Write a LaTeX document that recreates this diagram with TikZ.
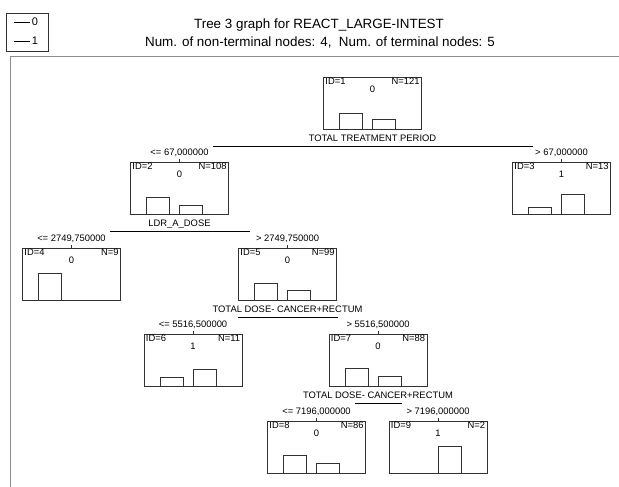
\documentclass[tikz,border=0pt]{standalone}
\usepackage{fontspec}
\setmainfont{Liberation Sans}
\usetikzlibrary{positioning,calc}
\definecolor{boxline}{RGB}{50,50,50}
\definecolor{framegray}{RGB}{140,140,140}

% one tree node: name, x centre, top, id, n, class, bar heights
\newcommand{\drawtreenode}[8]{%
  \node[treebox] (#1) at (#2,#3) {};
  \node[small, anchor=north west] (#1id) at ([shift={(2pt,-1pt)}]#1.north west) {ID=#4};
  \node[small, anchor=north east] (#1n) at ([shift={(-2pt,-1pt)}]#1.north east) {N=#5};
  \node[small] (#1cls) at ([yshift=-12.5pt]#1.north) {#6};
  \ifnum#7>0 \draw[bar] ([xshift=-33pt]#1.south) rectangle ([xshift=-10pt,yshift=#7pt]#1.south);\fi
  \ifnum#8>0 \draw[bar] (#1.south) rectangle ([xshift=23pt,yshift=#8pt]#1.south);\fi
}

\begin{document}
\begin{tikzpicture}[x=1pt,y=-1pt,
  treebox/.style={draw=boxline, line width=0.6pt, minimum width=98pt, minimum height=52pt, inner sep=0pt, anchor=north},
  small/.style={font=\fontsize{9.4}{11}\selectfont, inner sep=0pt},
  bar/.style={draw=boxline, line width=0.6pt},
  splitline/.style={draw=black, line width=0.7pt},
  tick/.style={draw=boxline, line width=0.5pt}]
  \useasboundingbox (0,0) rectangle (619,487);

  % frame and legend
  \draw[framegray, line width=1pt] (10,490) -- (10,57) -- (625,57);
  \node[draw=boxline, line width=0.6pt, minimum width=42pt, minimum height=38pt, inner sep=0pt] (legend) at (27,32) {};
  \draw[line width=0.6pt] (14,22) -- (30,22);
  \node[font=\fontsize{11}{12}\selectfont, inner sep=0pt] (leg0) at (35,22) {0};
  \draw[line width=0.6pt] (14,41) -- (30,41);
  \node[font=\fontsize{11}{12}\selectfont, inner sep=0pt] (leg1) at (35,41) {1};

  % titles
  \node[font=\fontsize{13.4}{15}\selectfont, inner sep=0pt] (title) at (319,25) {Tree 3 graph for REACT\_LARGE-INTEST};
  \node[font=\fontsize{13.4}{15}\selectfont, inner sep=0pt] (subtitle) at (320,43) {Num. of non-terminal nodes: 4,\ \ Num. of terminal nodes: 5};

  % nodes
  \drawtreenode{n1}{372.5}{77}{1}{121}{0}{16}{10}
  \drawtreenode{n2}{179.5}{162}{2}{108}{0}{17}{9}
  \drawtreenode{n3}{561.5}{162}{3}{13}{1}{7}{20}
  \drawtreenode{n4}{71.5}{248}{4}{9}{0}{27}{0}
  \drawtreenode{n5}{287.5}{248}{5}{99}{0}{17}{10}
  \drawtreenode{n6}{193}{334}{6}{11}{1}{9}{17}
  \drawtreenode{n7}{378}{334}{7}{88}{0}{18}{10}
  \drawtreenode{n8}{316.5}{421}{8}{86}{0}{18}{10}
  \drawtreenode{n9}{438}{421}{9}{2}{1}{0}{27}

  % split variables
  \node[small, below=5pt of n1] (s1) {TOTAL TREATMENT PERIOD};
  \node[small, below=5pt of n2] (s2) {LDR\_A\_DOSE};
  \node[small, below=5pt of n5] (s5) {TOTAL DOSE- CANCER+RECTUM};
  \node[small, below=5pt of n7] (s7) {TOTAL DOSE- CANCER+RECTUM};
  \draw[splitline] ([shift={(-160pt,-17pt)}]n1.south) -- ([shift={(160pt,-17pt)}]n1.south);
  \draw[splitline] ([shift={(-70pt,-17pt)}]n2.south) -- ([shift={(70pt,-17pt)}]n2.south);
  \draw[splitline] ([shift={(-50pt,-17pt)}]n5.south) -- ([shift={(50pt,-17pt)}]n5.south);
  \draw[splitline] ([shift={(-23.5pt,-17pt)}]n7.south) -- ([shift={(23.5pt,-17pt)}]n7.south);

  % split values
  \node[small, above=5pt of n2] (e2) {<= 67,000000};
  \node[small, above=5pt of n3] (e3) {> 67,000000};
  \node[small, above=5pt of n4] (e4) {<= 2749,750000};
  \node[small, above=5pt of n5] (e5) {> 2749,750000};
  \node[small, above=5pt of n6] (e6) {<= 5516,500000};
  \node[small, above=5pt of n7] (e7) {> 5516,500000};
  \node[small, above=5pt of n8] (e8) {<= 7196,000000};
  \node[small, above=5pt of n9] (e9) {> 7196,000000};
  \foreach \k in {n2,n3,n4,n5,n6,n7,n8,n9}
    \draw[tick] (\k.north) -- ++(0,-3);
\end{tikzpicture}
\end{document}
